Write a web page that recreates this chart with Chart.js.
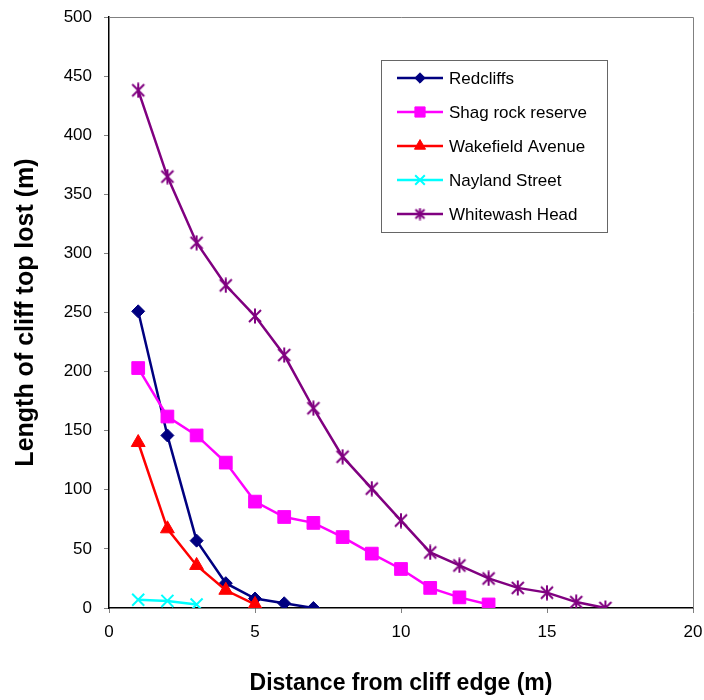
<!DOCTYPE html>
<html>
<head>
<meta charset="utf-8">
<script src="https://cdn.jsdelivr.net/npm/chart.js@4.4.1/dist/chart.umd.min.js"></script>
<style>
  html, body { margin: 0; padding: 0; background: #fff; }
  #wrap { width: 704px; height: 700px; }
</style>
</head>
<body>
<div id="wrap"><canvas id="cliffChart" width="704" height="700"></canvas></div>
<script>
// distance from cliff edge (m) for each series
var redcliffsX = [1, 2, 3, 4, 5, 6, 7];
var redcliffsY = [251, 146, 57, 21, 8, 4, 0];

var shagX = [1, 2, 3, 4, 5, 6, 7, 8, 9, 10, 11, 12, 13];
var shagY = [203, 162, 146, 123, 90, 77, 72, 60, 46, 33, 17, 9, 3];

var wakefieldX = [1, 2, 3, 4, 5];
var wakefieldY = [140, 67, 36, 15, 3];

var naylandX = [1, 2, 3];
var naylandY = [7, 6, 3];

var whitewashX = [1, 2, 3, 4, 5, 6, 7, 8, 9, 10, 11, 12, 13, 14, 15, 16, 17];
var whitewashY = [438, 365, 309, 273, 247, 214, 169, 128, 101, 74, 47, 36, 25, 17, 13, 5, 0];

var seriesNames = ["Redcliffs", "Shag rock reserve", "Wakefield Avenue", "Nayland Street", "Whitewash Head"];
var seriesColors = ["#000080", "#FF00FF", "#FF0000", "#00FFFF", "#800080"];

const FONT = "'Liberation Sans', Arial, sans-serif";

// excel style star marker: an X with a vertical bar through it
function makeStar(color, size) {
    var c = document.createElement("canvas");
    c.width = size;
    c.height = size;
    var g = c.getContext("2d");
    g.strokeStyle = color;
    g.lineWidth = 2;
    var m = size / 2, d = size / 2 - 2;
    g.beginPath();
    g.moveTo(m - d, m - d); g.lineTo(m + d, m + d);
    g.moveTo(m + d, m - d); g.lineTo(m - d, m + d);
    g.moveTo(m, 0.5); g.lineTo(m, size - 0.5);
    g.stroke();
    return c;
}

var seriesMarkers = ["rectRot", "rect", "triangle", "crossRot", makeStar("#800080", 16)];
var seriesRadius = [6.5, 9, 8, 8.5, 8];
var legendMarkers = ["rectRot", "rect", "triangle", "crossRot", makeStar("#800080", 13)];

function toPoints(xs, ys) {
    var pts = [];
    for (var i = 0; i < xs.length; i++) {
        pts.push({ x: xs[i], y: ys[i] });
    }
    return pts;
}

var allX = [redcliffsX, shagX, wakefieldX, naylandX, whitewashX];
var allY = [redcliffsY, shagY, wakefieldY, naylandY, whitewashY];

var datasets = [];
for (var i = 0; i < seriesNames.length; i++) {
    datasets.push({
        label: seriesNames[i],
        data: toPoints(allX[i], allY[i]),
        showLine: true,
        borderColor: seriesColors[i],
        backgroundColor: seriesColors[i],
        borderWidth: 2.5,
        pointStyle: seriesMarkers[i],
        pointRadius: seriesRadius[i],
        pointBorderWidth: i == 3 ? 2 : 1,
        pointHoverRadius: seriesRadius[i],
        order: seriesNames.length - i
    });
}

// gray border on the top and right of the plot area (Excel style)
const plotFrame = {
    id: 'plotFrame',
    afterDatasetsDraw(chart) {
        const ctx = chart.ctx;
        const a = chart.chartArea;
        ctx.save();
        ctx.strokeStyle = "#808080";
        ctx.lineWidth = 1;
        ctx.beginPath();
        ctx.moveTo(a.left, a.top + 0.5);
        ctx.lineTo(a.right + 0.5, a.top + 0.5);
        ctx.lineTo(a.right + 0.5, a.bottom);
        ctx.stroke();
        ctx.restore();
    }
};

// legend box drawn inside the plot area
const boxLegend = {
    id: 'boxLegend',
    afterDraw(chart) {
        const ctx = chart.ctx;
        const left = 381, top = 60, width = 226, height = 172;
        ctx.save();
        ctx.fillStyle = "#ffffff";
        ctx.fillRect(left, top, width, height);
        ctx.strokeStyle = "#666666";
        ctx.lineWidth = 1;
        ctx.strokeRect(left + 0.5, top + 0.5, width, height);
        ctx.font = "17px " + FONT;
        ctx.textBaseline = "middle";
        for (var i = 0; i < seriesNames.length; i++) {
            var y = 78 + i * 34;
            ctx.strokeStyle = seriesColors[i];
            ctx.fillStyle = seriesColors[i];
            ctx.lineWidth = 2.5;
            ctx.beginPath();
            ctx.moveTo(397, y);
            ctx.lineTo(443, y);
            ctx.stroke();
            ctx.lineWidth = i == 3 ? 2 : 1;
            Chart.helpers.drawPoint(ctx, {
                pointStyle: legendMarkers[i],
                radius: seriesRadius[i] * 0.8,
                rotation: 0,
                borderWidth: 1
            }, 420, y);
            ctx.fillStyle = "#000000";
            ctx.fillText(seriesNames[i], 449, y + 1);
        }
        ctx.restore();
    }
};

new Chart("cliffChart", {
    type: "scatter",
    data: { datasets: datasets },
    options: {
        responsive: false,
        animation: false,
        layout: { padding: { top: 17, right: 11, left: 0, bottom: 0 } },
        plugins: {
            legend: { display: false },
            tooltip: { enabled: false }
        },
        scales: {
            x: {
                type: "linear",
                min: 0,
                max: 20,
                ticks: {
                    stepSize: 5,
                    color: "#000",
                    font: { family: FONT, size: 17 },
                    padding: 9
                },
                grid: {
                    display: true,
                    drawOnChartArea: false,
                    drawTicks: true,
                    tickLength: 5,
                    tickColor: "#808080"
                },
                border: { display: true, color: "#000", width: 1.5 },
                title: {
                    display: true,
                    text: "Distance from cliff edge (m)",
                    color: "#000",
                    font: { family: FONT, size: 23, weight: "bold" },
                    padding: { top: 0, bottom: 3 }
                },
                afterFit: function (scale) {
                    scale.height = 92;
                    scale.paddingLeft = 0;
                    scale.paddingRight = 0;
                }
            },
            y: {
                type: "linear",
                min: 0,
                max: 500,
                ticks: {
                    stepSize: 50,
                    color: "#000",
                    font: { family: FONT, size: 17 },
                    padding: 12
                },
                grid: {
                    display: true,
                    drawOnChartArea: false,
                    drawTicks: true,
                    tickLength: 5,
                    tickColor: "#808080"
                },
                border: { display: true, color: "#000", width: 1.5 },
                title: {
                    display: true,
                    text: "Length of cliff top lost (m)",
                    color: "#000",
                    font: { family: FONT, size: 25, weight: "bold" },
                    padding: { top: 11, bottom: 0 }
                },
                afterFit: function (scale) {
                    scale.width = 109;
                    scale.paddingTop = 0;
                    scale.paddingBottom = 0;
                }
            }
        }
    },
    plugins: [plotFrame, boxLegend]
});
</script>
</body>
</html>
